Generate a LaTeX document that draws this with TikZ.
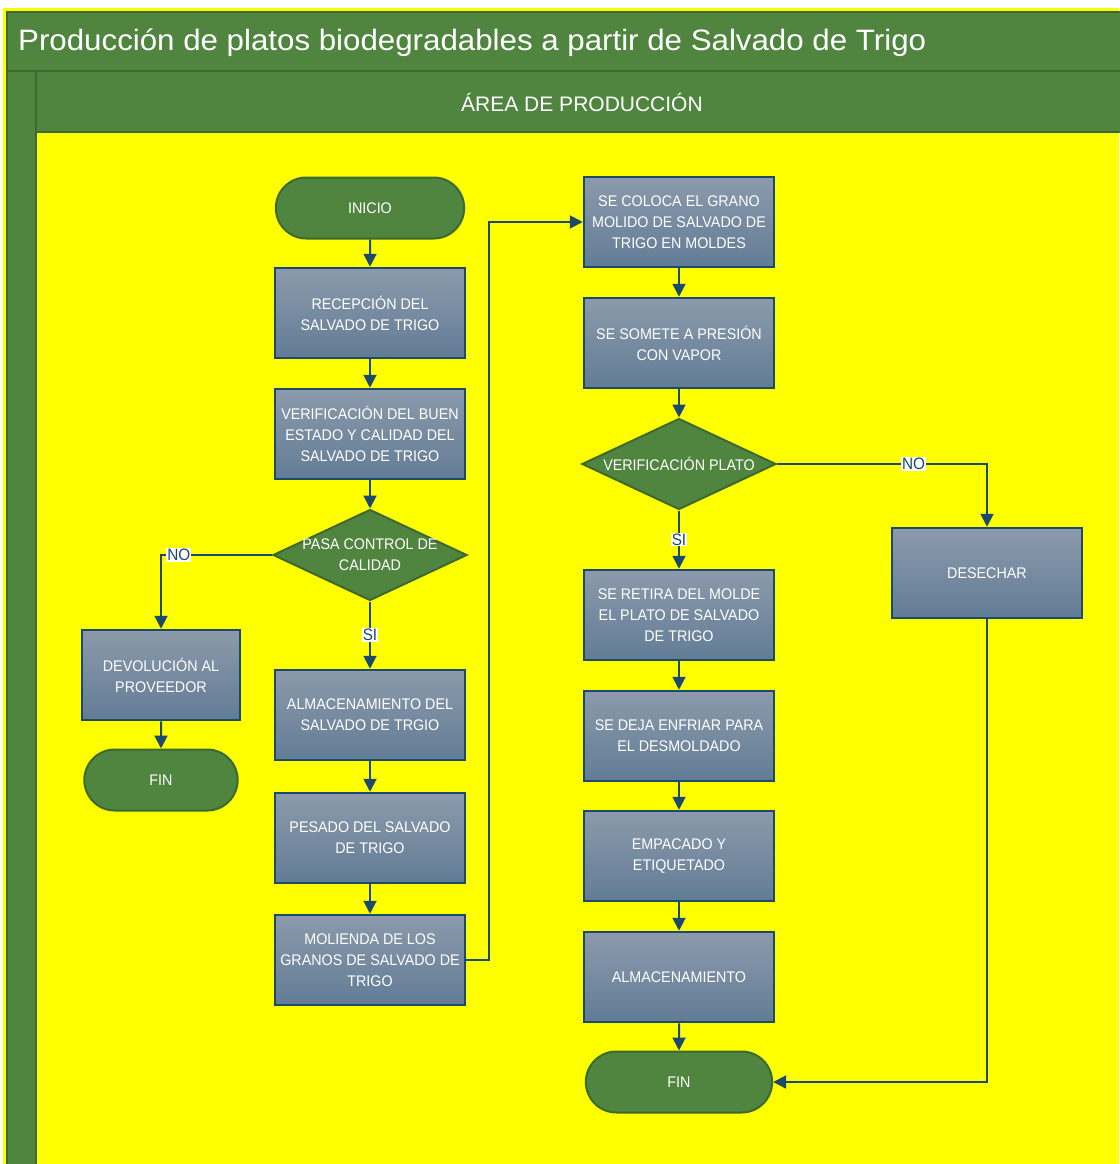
\documentclass[tikz,border=0pt]{standalone}
\usepackage{fontspec}
\setmainfont{Liberation Sans}
\newfontfamily\boxfont{Liberation Sans}[FakeStretch=0.93]
\newfontfamily\titlefont{Liberation Sans}[FakeStretch=1.06]
\usetikzlibrary{shapes.geometric,shapes.misc,arrows.meta}
\definecolor{ylw}{RGB}{255,255,0}
\definecolor{grn}{RGB}{80,133,64}
\definecolor{dgrn}{RGB}{60,105,48}
\definecolor{boxtop}{RGB}{140,154,171}
\definecolor{boxbot}{RGB}{98,124,150}
\definecolor{bblue}{RGB}{28,74,108}
\tikzset{
  proc/.style={rectangle,minimum width=190pt,minimum height=90pt,draw=bblue,line width=2.5pt,
    top color=boxtop,bottom color=boxbot,text=white,align=center,font=\boxfont\fontsize{15.4}{21}\selectfont,inner sep=0pt},
  term/.style={rounded rectangle,minimum width=195pt,minimum height=61pt,draw=dgrn,line width=2pt,
    fill=grn,text=white,align=center,font=\boxfont\fontsize{15.4}{21}\selectfont},
  dec/.style={diamond,minimum width=194pt,minimum height=91pt,draw=dgrn,line width=2pt,fill=grn,inner sep=0pt},
  dectext/.style={text=white,align=center,font=\boxfont\fontsize{15.4}{21}\selectfont},
  arr/.style={draw=bblue,line width=2pt,-{Triangle[length=13pt,width=13pt]}},
  lbl/.style={fill=white,text=bblue,inner sep=1pt,font=\boxfont\fontsize{16.5}{18}\selectfont},
}
\begin{document}
\begin{tikzpicture}[x=1pt,y=-1pt]
\useasboundingbox (0,0) rectangle (1119,1164);
\fill[white] (0,0) rectangle (1119,1164);
% frame
\fill[ylw] (3,8) rectangle (1119,1164);
\draw[dgrn,fill=grn,line width=2pt] (7,12) rectangle (1125,71);
\draw[dgrn,fill=grn,line width=2pt] (7,71) rectangle (36,1170);
\draw[dgrn,fill=grn,line width=2pt] (36,71) rectangle (1125,132);
\node[anchor=west,text=white,inner sep=0pt,font=\titlefont\fontsize{29.5}{32}\selectfont] (title) at (18,43) {Producción de platos biodegradables a partir de Salvado de Trigo};
\node[text=white,inner sep=0pt,font=\fontsize{21}{24}\selectfont] (lane) at (582,102) {ÁREA DE PRODUCCIÓN};
% column 1
\node[term] (ini) at (370,208) {INICIO};
\node[proc] (rec) at (370,313) {RECEPCIÓN DEL\\SALVADO DE TRIGO};
\node[proc] (ver) at (370,434) {VERIFICACIÓN DEL BUEN\\ESTADO Y CALIDAD DEL\\SALVADO DE TRIGO};
\node[dec,label={[dectext]center:PASA CONTROL DE\\CALIDAD}] (d1) at (370,555) {};
\node[proc] (alm1) at (370,715) {ALMACENAMIENTO DEL\\SALVADO DE TRGIO};
\node[proc] (pes) at (370,838) {PESADO DEL SALVADO\\DE TRIGO};
\node[proc] (mol) at (370,960) {MOLIENDA DE LOS\\GRANOS DE SALVADO DE\\TRIGO};
% column 0
\node[proc,minimum width=158pt] (dev) at (161,675) {DEVOLUCIÓN AL\\PROVEEDOR};
\node[term,minimum width=160pt] (fin1) at (161,780) {FIN};
% column 2
\node[proc] (col) at (679,222) {SE COLOCA EL GRANO\\MOLIDO DE SALVADO DE\\TRIGO EN MOLDES};
\node[proc] (som) at (679,343) {SE SOMETE A PRESIÓN\\CON VAPOR};
\node[dec,label={[dectext]center:VERIFICACIÓN PLATO}] (d2) at (679,464) {};
\node[proc] (ret) at (679,615) {SE RETIRA DEL MOLDE\\EL PLATO DE SALVADO\\DE TRIGO};
\node[proc] (enf) at (679,736) {SE DEJA ENFRIAR PARA\\EL DESMOLDADO};
\node[proc] (emp) at (679,856) {EMPACADO Y\\ETIQUETADO};
\node[proc] (alm2) at (679,977) {ALMACENAMIENTO};
\node[term,minimum width=193pt] (fin2) at (679,1082) {FIN};
% column 3
\node[proc] (des) at (987,573) {DESECHAR};
% connectors
\draw[arr] (ini) -- (rec);
\draw[arr] (rec) -- (ver);
\draw[arr] (ver) -- (d1);
\draw[arr] (d1.south) -- node[lbl] (si1) {SI} (alm1);
\draw[arr] (d1.west) -| node[lbl,pos=0.42] (no1) {NO} (dev.north);
\draw[arr] (dev) -- (fin1);
\draw[arr] (alm1) -- (pes);
\draw[arr] (pes) -- (mol);
\draw[arr] (mol.east) -- ++(23,0) |- (col.west);
\draw[arr] (col) -- (som);
\draw[arr] (som) -- (d2);
\draw[arr] (d2.south) -- node[lbl] (si2) {SI} (ret);
\draw[arr] (d2.east) -| node[lbl,pos=0.325] (no2) {NO} (des.north);
\draw[arr] (ret) -- (enf);
\draw[arr] (enf) -- (emp);
\draw[arr] (emp) -- (alm2);
\draw[arr] (alm2) -- (fin2);
\draw[arr] (des.south) |- (fin2.east);
\end{tikzpicture}
\end{document}
